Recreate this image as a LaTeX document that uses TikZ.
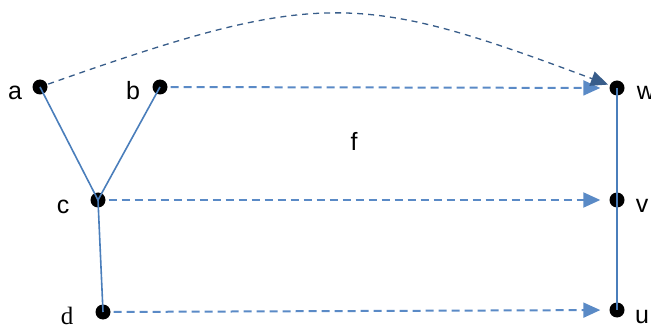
\documentclass[tikz,border=0pt]{standalone}
\usepackage{fontspec}
\setmainfont{Liberation Sans}
\newfontfamily\serifface{Liberation Serif}
\usetikzlibrary{arrows.meta}
\definecolor{edgeblue}{HTML}{4A7EBB}
\definecolor{mapblue}{HTML}{5A8AC6}
\definecolor{curveblue}{HTML}{385D8A}
\tikzset{
  vertex/.style={circle, fill=black, inner sep=0pt, minimum size=15pt},
  lbl/.style={font=\fontsize{25}{25}\selectfont, inner sep=0pt, anchor=base},
  edge/.style={draw=edgeblue, line width=1.6pt},
  mapto/.style={draw=mapblue, line width=2pt, dash pattern=on 8pt off 5pt,
    -{Triangle[length=17pt,width=15pt]}, shorten <=3pt, shorten >=9pt},
  bend map/.style={draw=curveblue, line width=1.3pt, dash pattern=on 6pt off 5pt,
    -{Triangle[length=17pt,width=15pt]}, shorten <=1pt, shorten >=2pt}
}
\begin{document}
\begin{tikzpicture}[x=1pt, y=-1pt]
  \useasboundingbox (0,0) rectangle (651,326);
  % points of the left-hand tree
  \node[vertex] (a) at (40,87) {};
  \node[vertex] (b) at (160,87) {};
  \node[vertex] (c) at (98,200) {};
  \node[vertex] (d) at (103,312) {};
  % points of the right-hand path
  \node[vertex] (w) at (617,88) {};
  \node[vertex] (v) at (617,200) {};
  \node[vertex] (u) at (617,310) {};
  % labels
  \node[lbl] (la) at (15,100) {a};
  \node[lbl] (lb) at (133,100) {b};
  \node[lbl] (lc) at (63,213) {c};
  \node[lbl, font=\serifface\fontsize{25}{25}\selectfont] (ld) at (67,324) {d};
  \node[lbl] (lw) at (646,100) {w};
  \node[lbl] (lv) at (642,212) {v};
  \node[lbl] (lu) at (642,323) {u};
  \node[lbl] (lf) at (354,151) {f};
  % edges
  \draw[edge] (a.center) -- (c.center);
  \draw[edge] (b.center) -- (c.center);
  \draw[edge] (c.center) -- (d.center);
  \draw[edge] (w.center) -- (u.center);
  % the map f
  \draw[mapto] (b) -- (w);
  \draw[mapto] (c) -- (v);
  \draw[mapto] (d) -- (u);
  \draw[bend map] (a) .. controls (320,-12) and (360,-8) .. (w);
\end{tikzpicture}
\end{document}
